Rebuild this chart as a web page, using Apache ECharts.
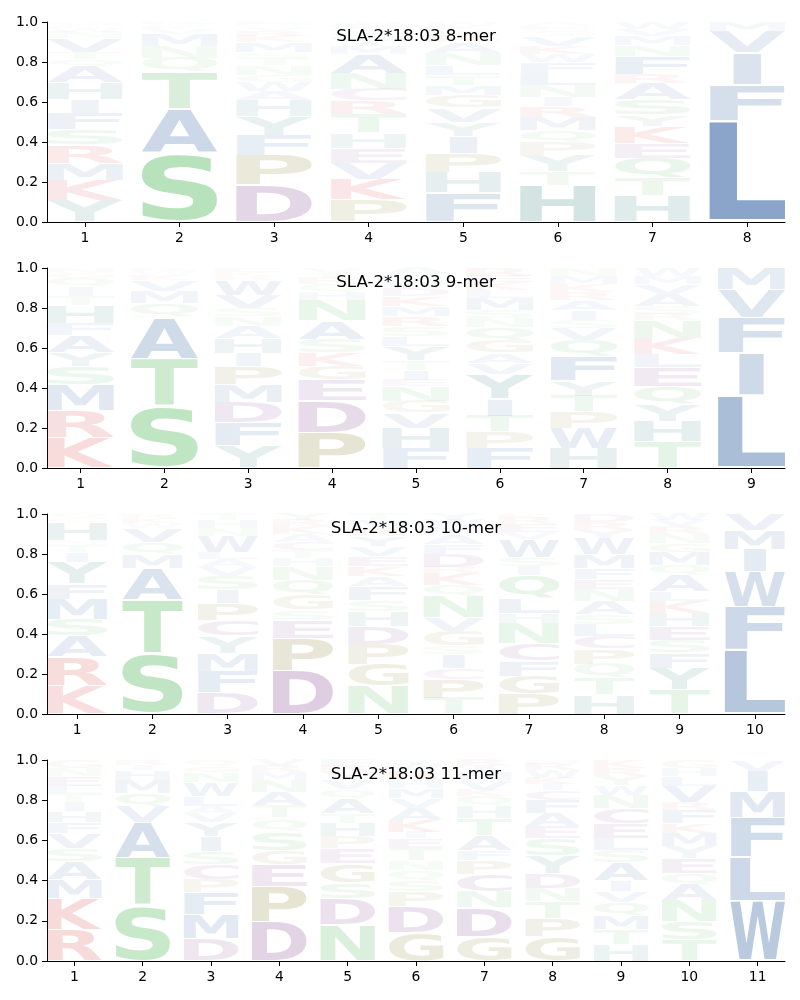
<!DOCTYPE html>
<html><head><meta charset="utf-8">
<script src="https://cdn.jsdelivr.net/npm/echarts@6/dist/echarts.min.js"></script>
<style>html,body{margin:0;padding:0;background:#fff}#chart{width:800px;height:1000px}</style>
</head><body><div id="chart"></div>
<script>
// ---------------- DATA (bottom -> top, [letter, probability]) ----------------
const panelTitles = ['SLA-2*18:03 8-mer', 'SLA-2*18:03 9-mer', 'SLA-2*18:03 10-mer', 'SLA-2*18:03 11-mer'];
const yTickValues = [0, 0.2, 0.4, 0.6, 0.8, 1.0];

const mer8 = [
  [['Y',.11],['K',.10],['M',.085],['R',.09],['S',.08],['F',.08],['I',.07],['H',.085],['A',.08],['Q',.035],['T',.035],['V',.07],['N',.03],['W',.02],['C',.015],['G',.015]],
  [['S',.345],['A',.22],['T',.185],['Q',.07],['N',.06],['M',.06],['V',.025],['K',.015],['W',.01],['R',.01]],
  [['D',.185],['P',.15],['F',.10],['Y',.095],['H',.08],['A',.045],['W',.045],['G',.035],['N',.05],['T',.035],['S',.03],['M',.05],['K',.03],['R',.025],['V',.02],['Q',.015],['E',.01]],
  [['P',.11],['K',.105],['V',.08],['E',.075],['H',.075],['T',.095],['R',.065],['C',.06],['N',.08],['A',.095],['M',.04],['Y',.04],['S',.03],['G',.02],['F',.015],['W',.015]],
  [['F',.145],['H',.105],['P',.095],['I',.085],['Y',.07],['V',.07],['G',.065],['M',.05],['T',.05],['L',.05],['N',.06],['A',.055],['R',.03],['S',.03],['K',.02],['W',.02]],
  [['H',.182],['T',.07],['Y',.08],['P',.065],['Q',.06],['M',.065],['R',.055],['I',.045],['N',.06],['L',.06],['F',.055],['W',.04],['K',.04],['V',.05],['S',.025],['G',.015],['E',.013],['A',.02]],
  [['H',.13],['T',.09],['Q',.10],['E',.075],['K',.085],['Y',.055],['S',.08],['A',.08],['R',.045],['F',.09],['N',.055],['M',.045],['V',.035],['W',.035]],
  [['L',.505],['F',.18],['I',.16],['V',.11],['M',.045]]
];

const mer9 = [
  [['K',.15],['R',.135],['M',.13],['S',.095],['Y',.07],['A',.085],['F',.06],['H',.09],['T',.045],['I',.045],['Q',.045],['G',.025],['N',.025]],
  [['S',.305],['T',.24],['A',.205],['E',.01],['Q',.065],['M',.06],['V',.055],['K',.025],['W',.02],['R',.015]],
  [['Y',.11],['F',.115],['D',.105],['M',.09],['P',.09],['I',.065],['H',.075],['A',.06],['N',.05],['S',.04],['V',.065],['W',.075],['R',.02],['K',.02],['E',.02]],
  [['P',.175],['D',.16],['E',.105],['G',.07],['K',.065],['S',.07],['A',.09],['N',.105],['H',.04],['Q',.04],['R',.03],['T',.025],['V',.025]],
  [['F',.10],['H',.10],['V',.075],['G',.06],['N',.075],['E',.03],['I',.05],['T',.05],['Y',.07],['L',.05],['S',.05],['R',.05],['M',.05],['K',.05],['D',.04],['W',.04],['Q',.03],['A',.03]],
  [['F',.10],['P',.08],['T',.08],['I',.085],['Y',.125],['V',.055],['A',.05],['G',.065],['Q',.065],['N',.045],['S',.04],['M',.06],['L',.04],['K',.04],['E',.03],['R',.04]],
  [['H',.10],['W',.10],['P',.08],['T',.08],['Y',.075],['F',.125],['Q',.08],['V',.06],['S',.04],['I',.05],['A',.05],['R',.04],['K',.04],['M',.04],['N',.04]],
  [['T',.13],['H',.105],['Y',.085],['Q',.09],['E',.095],['L',.065],['K',.08],['N',.09],['R',.03],['S',.04],['A',.06],['V',.05],['M',.04],['W',.04]],
  [['L',.365],['I',.21],['F',.175],['V',.14],['M',.11]]
];

const mer10 = [
  [['K',.14],['R',.145],['A',.105],['S',.085],['M',.10],['F',.075],['Y',.11],['I',.05],['T',.035],['N',.025],['H',.09],['G',.02],['Q',.02]],
  [['S',.30],['T',.27],['A',.16],['M',.07],['Q',.06],['V',.07],['W',.025],['K',.025],['R',.02]],
  [['D',.105],['F',.11],['M',.09],['Y',.085],['C',.08],['P',.085],['I',.065],['S',.07],['V',.045],['A',.04],['L',.035],['W',.08],['N',.04],['H',.04],['T',.03]],
  [['D',.215],['P',.165],['E',.09],['S',.05],['G',.075],['Q',.075],['N',.07],['H',.04],['T',.04],['C',.04],['A',.04],['K',.04],['R',.03],['Y',.03]],
  [['N',.14],['G',.11],['P',.10],['D',.09],['H',.075],['S',.055],['F',.07],['A',.05],['K',.05],['E',.05],['V',.05],['Y',.05],['R',.04],['M',.04],['T',.03]],
  [['T',.08],['P',.095],['C',.055],['I',.07],['S',.04],['G',.075],['V',.065],['N',.11],['Q',.055],['K',.06],['R',.03],['D',.065],['F',.05],['A',.05],['M',.04],['W',.03],['Y',.03]],
  [['P',.10],['G',.09],['F',.075],['C',.085],['N',.105],['H',.05],['L',.075],['Q',.115],['I',.045],['S',.045],['W',.09],['V',.035],['E',.04],['R',.03],['K',.02]],
  [['H',.095],['T',.085],['Q',.07],['P',.075],['C',.065],['L',.06],['S',.05],['A',.065],['N',.06],['E',.05],['F',.055],['M',.07],['W',.08],['Y',.04],['R',.04],['D',.04]],
  [['T',.12],['Y',.11],['F',.075],['S',.065],['E',.07],['H',.065],['K',.06],['L',.05],['A',.08],['Q',.05],['M',.065],['G',.045],['N',.045],['R',.04],['V',.03],['W',.03]],
  [['L',.32],['F',.215],['W',.175],['I',.115],['M',.095],['V',.08]]
];

const mer11 = [
  [['R',.155],['K',.155],['M',.095],['A',.09],['S',.065],['V',.075],['F',.055],['H',.055],['I',.045],['T',.04],['L',.04],['E',.05],['N',.04],['G',.04]],
  [['S',.275],['T',.24],['A',.175],['V',.08],['Q',.065],['M',.065],['H',.05],['I',.025],['R',.025]],
  [['D',.11],['M',.12],['F',.11],['P',.065],['C',.075],['S',.065],['I',.075],['Y',.07],['V',.045],['A',.035],['L',.05],['W',.07],['N',.05],['G',.03],['Q',.03]],
  [['D',.195],['P',.175],['E',.11],['G',.07],['S',.095],['Q',.055],['K',.015],['T',.06],['A',.065],['N',.06],['M',.04],['R',.03],['V',.03]],
  [['N',.18],['D',.13],['S',.08],['G',.095],['E',.075],['P',.06],['H',.065],['T',.05],['A',.075],['Q',.045],['V',.045],['Y',.04],['R',.03],['F',.03]],
  [['G',.14],['D',.13],['P',.075],['S',.055],['Q',.05],['N',.05],['T',.06],['E',.05],['I',.03],['K',.06],['A',.06],['V',.05],['M',.05],['H',.04],['R',.05],['W',.03],['Y',.02]],
  [['G',.12],['D',.145],['N',.08],['C',.085],['P',.07],['F',.05],['A',.075],['T',.085],['H',.06],['Q',.05],['K',.03],['V',.05],['M',.04],['I',.03],['R',.03]],
  [['G',.12],['P',.09],['T',.085],['N',.065],['D',.075],['Y',.09],['S',.085],['E',.06],['A',.065],['F',.065],['C',.05],['I',.03],['K',.03],['W',.04],['R',.03],['M',.02]],
  [['H',.08],['T',.075],['M',.07],['Q',.065],['V',.055],['I',.055],['A',.09],['S',.06],['L',.06],['E',.075],['C',.075],['N',.065],['W',.05],['Y',.045],['R',.04],['K',.04]],
  [['T',.105],['S',.09],['N',.105],['A',.08],['Q',.055],['E',.075],['Y',.06],['M',.065],['K',.05],['F',.065],['R',.04],['V',.08],['L',.05],['H',.04],['G',.04]],
  [['W',.30],['L',.215],['F',.20],['M',.13],['I',.10],['V',.055]]
];

const panels = [mer8, mer9, mer10, mer11];

// ---------------- STYLE ----------------
const groupRGB = {
  hyd: [24, 78, 148],
  pol: [50, 170, 60],
  gly: [115, 105, 10],
  aci: [105, 30, 120],
  bas: [205, 20, 20],
  aro: [15, 105, 100]
};
const letterGroup = {
  A:'hyd', V:'hyd', L:'hyd', I:'hyd', M:'hyd', F:'hyd', W:'hyd',
  S:'pol', T:'pol', N:'pol', Q:'pol',
  P:'gly', G:'gly',
  D:'aci', E:'aci', C:'aci',
  K:'bas', R:'bas',
  H:'aro', Y:'aro'
};
const LETTERS = 'ACDEFGHIKLMNPQRSTVWY';
const GLYPH_W = 0.8, VPAD = 0.05;
const FONT_PX = 200;
const FONT_FAMILY = '"DejaVu Sans"';
const GLYPH_FONT = 'bold ' + FONT_PX + 'px ' + FONT_FAMILY;
const TICK_FONT_SIZE = 13.9, TITLE_FONT_SIZE = 16.7;

// ink metrics of each glyph (anchor: left / middle baseline, as zrender draws)
const mctx = document.createElement('canvas').getContext('2d');
mctx.font = GLYPH_FONT; mctx.textAlign = 'left'; mctx.textBaseline = 'middle';
const metrics = {};
for (const ch of LETTERS) {
  const m = mctx.measureText(ch);
  metrics[ch] = {l: -m.actualBoundingBoxLeft, r: m.actualBoundingBoxRight, t: -m.actualBoundingBoxAscent, b: m.actualBoundingBoxDescent};
}
const eWidth = metrics.E.r - metrics.E.l;

const gridTops = [22, 268, 514, 760];
const gridHeights = [200, 200, 200, 201];

const option = {animation: false, backgroundColor: '#fff', grid: [], xAxis: [], yAxis: [], series: [], graphic: []};

panels.forEach((panel, gi) => {
  const n = panel.length;
  const positions = panel.map((_, i) => i + 1);
  option.grid.push({left: 47, right: 15, top: gridTops[gi], height: gridHeights[gi]});
  option.xAxis.push({
    type: 'value', gridIndex: gi, min: 0.6, max: n + 0.4,
    splitLine: {show: false},
    axisLine: {show: true, onZero: false, lineStyle: {color: '#000', width: 1}},
    axisTick: {show: true, customValues: positions, length: 5, lineStyle: {color: '#000', width: 1}},
    axisLabel: {customValues: positions, color: '#000', fontSize: TICK_FONT_SIZE, fontFamily: 'DejaVu Sans', margin: 9}
  });
  option.yAxis.push({
    type: 'value', gridIndex: gi, min: 0, max: 1, interval: 0.2,
    splitLine: {show: false},
    axisLine: {show: true, lineStyle: {color: '#000', width: 1}},
    axisTick: {show: true, length: 5, lineStyle: {color: '#000', width: 1}},
    axisLabel: {color: '#000', fontSize: TICK_FONT_SIZE, fontFamily: 'DejaVu Sans', margin: 9, formatter: v => v.toFixed(1)}
  });
  const data = [];
  panel.forEach((stack, i) => {
    let y = 0;
    stack.forEach(([ch, p]) => {
      data.push([i + 1, y, y + p, LETTERS.indexOf(ch)]);
      y += p;
    });
  });
  option.series.push({
    type: 'custom', xAxisIndex: gi, yAxisIndex: gi, data: data,
    dimensions: ['pos', 'y0', 'y1', 'li'],
    encode: {x: 0, y: [1, 2]},
    clip: false,
    renderItem: function (params, api) {
      const pos = api.value(0), y0 = api.value(1), y1 = api.value(2);
      const ch = LETTERS[api.value(3)];
      const h = y1 - y0;
      const pad = VPAD * h / 2;
      const tl = api.coord([pos - GLYPH_W / 2, y1 - pad]);
      const br = api.coord([pos + GLYPH_W / 2, y0 + pad]);
      const boxW = br[0] - tl[0], boxH = br[1] - tl[1];
      const m = metrics[ch];
      const inkW = m.r - m.l, inkH = m.b - m.t;
      const sx = boxW / Math.max(inkW, eWidth);
      const sy = boxH / inkH;
      const x0 = tl[0] + (boxW - inkW * sx) / 2;
      const rgb = groupRGB[letterGroup[ch]];
      const alpha = Math.max(0, Math.min(1, h));
      return {
        type: 'text',
        x: x0 - m.l * sx, y: tl[1] - m.t * sy,
        scaleX: sx, scaleY: sy,
        style: {
          text: ch, x: 0, y: 0, font: GLYPH_FONT,
          fill: 'rgba(' + rgb[0] + ',' + rgb[1] + ',' + rgb[2] + ',' + alpha + ')',
          align: 'left', verticalAlign: 'middle',
          textAlign: 'left', textVerticalAlign: 'middle'
        }
      };
    }
  });
  option.graphic.push({
    type: 'text', x: 416, y: gridTops[gi] + 14.5, z: 100,
    style: {text: panelTitles[gi], font: TITLE_FONT_SIZE + 'px "DejaVu Sans"', fill: '#000',
      align: 'center', verticalAlign: 'middle', textAlign: 'center', textVerticalAlign: 'middle'}
  });
});

const chart = echarts.init(document.getElementById('chart'), null, {renderer: 'canvas'});
chart.setOption(option);
</script>
</body></html>
